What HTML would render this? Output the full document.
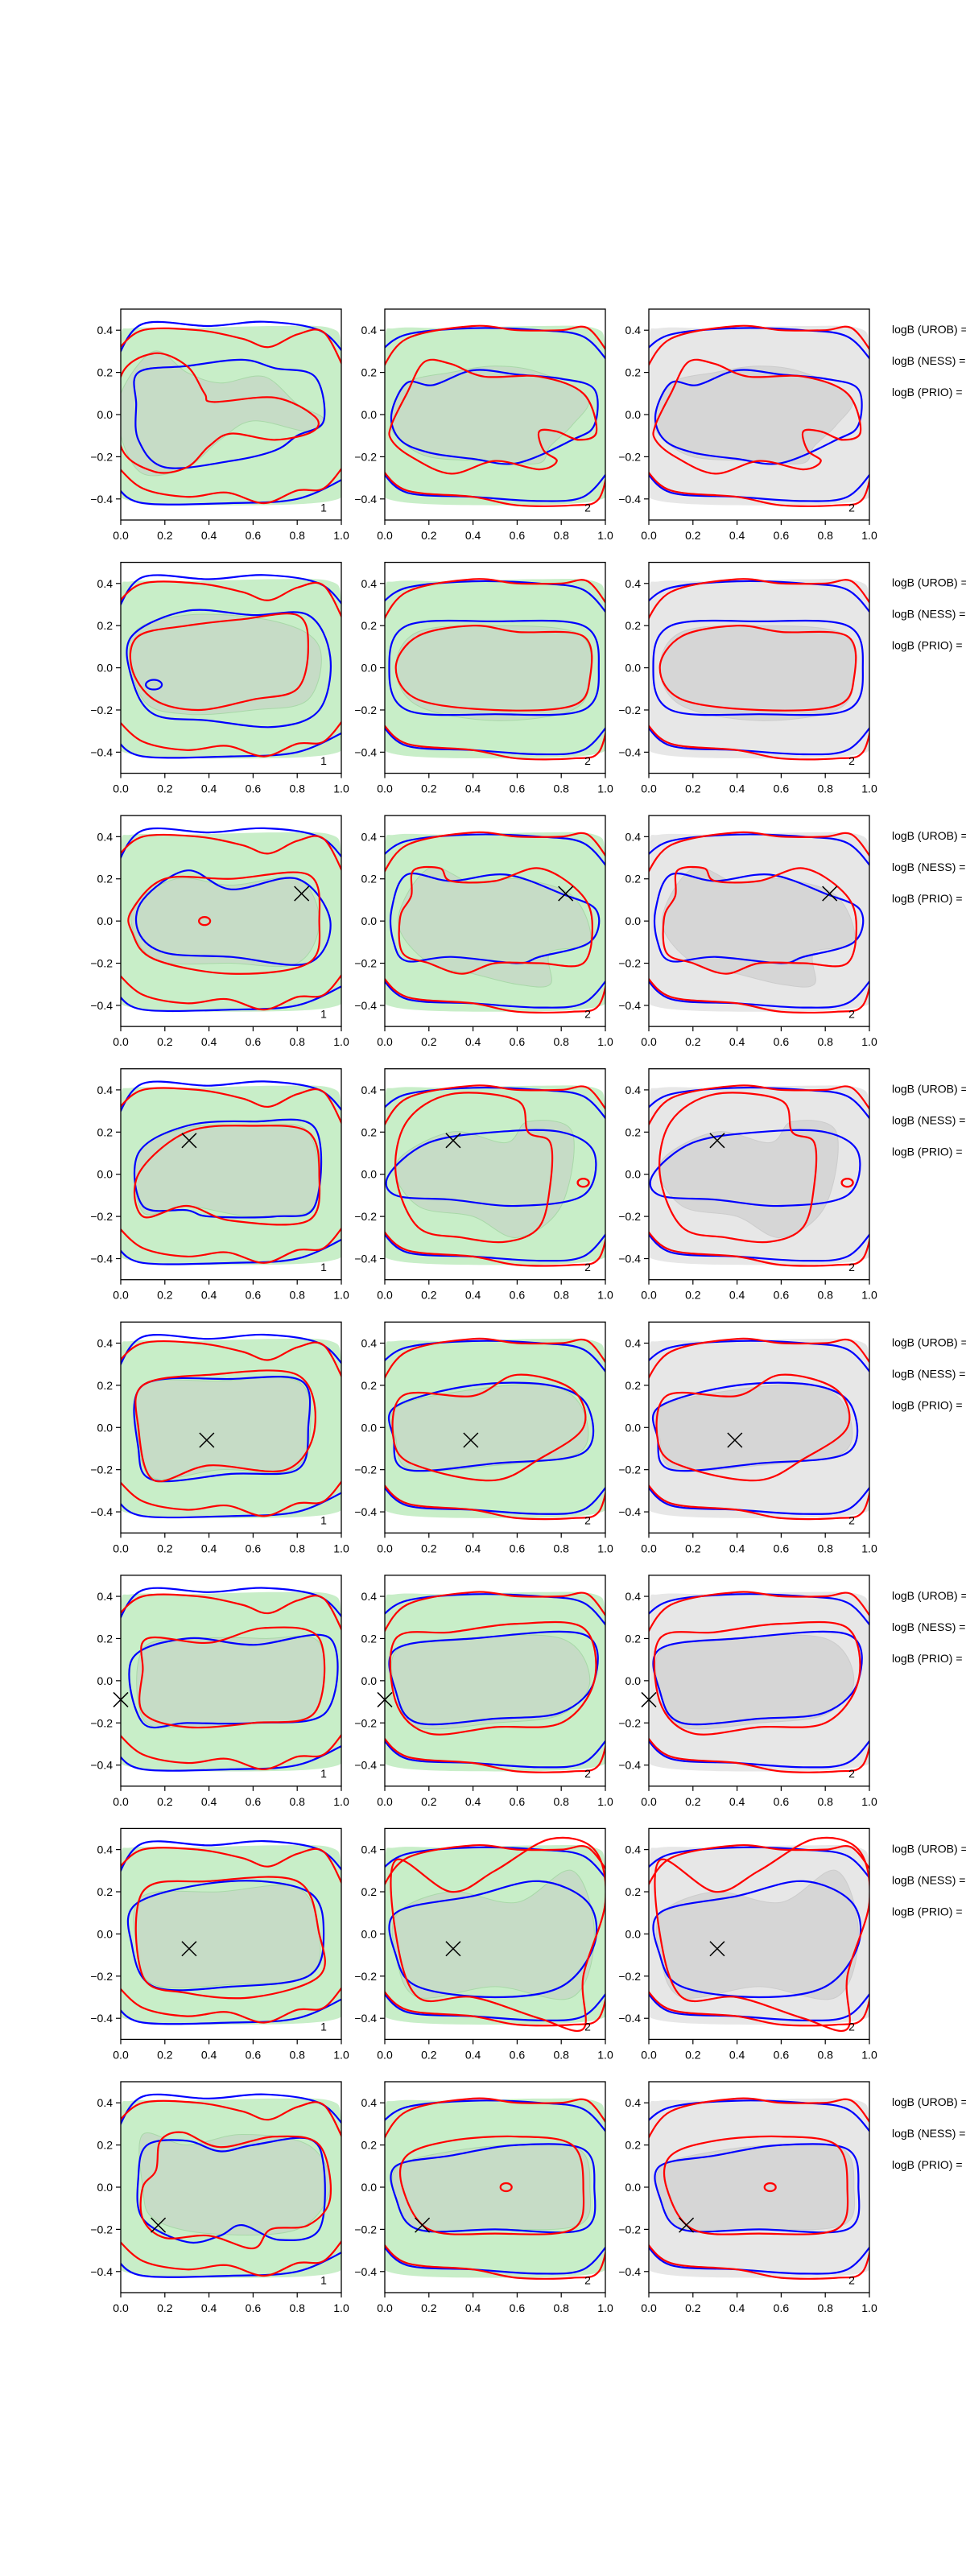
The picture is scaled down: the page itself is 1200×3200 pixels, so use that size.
<!DOCTYPE html>
<html><head><meta charset="utf-8"><style>
html,body{margin:0;padding:0;background:#fff;}
svg{display:block;font-family:"Liberation Sans","DejaVu Sans",sans-serif;}
</style></head><body>
<svg id="fig" width="1200" height="3200" viewBox="0 0 1200 3200" xmlns="http://www.w3.org/2000/svg"></svg>
<script>
// ---- data ----
const xTicks = [0, 0.2, 0.4, 0.6, 0.8, 1.0];
const xTickLabels = ["0.0","0.2","0.4","0.6","0.8","1.0"];
const yTicks = [-0.4, -0.2, 0, 0.2, 0.4];
const yTickLabels = ["\u22120.4","\u22120.2","0.0","0.2","0.4"];
const legendLabels = ["logB (UROB) =","logB (NESS) =","logB (PRIO) ="];
const panelLabels = ["1","2","2"];
const outerFill = [[0,0.36],[0.05,0.41],[0.3,0.41],[0.7,0.42],[0.95,0.41],[1,0.32],[1.01,0],[1,-0.32],[0.95,-0.41],[0.5,-0.43],[0.05,-0.41],[0,-0.32],[-0.01,0]];
const outerRedTop1 = [[-0.02,0.3],[0.1,0.4],[0.35,0.4],[0.55,0.36],[0.67,0.32],[0.8,0.38],[0.92,0.39],[1.02,0.2]];
const outerRedBot1 = [[-0.02,-0.24],[0.1,-0.35],[0.3,-0.39],[0.48,-0.37],[0.65,-0.42],[0.8,-0.36],[0.92,-0.35],[1.02,-0.23]];
const outerBlueTop1 = [[-0.02,0.26],[0.1,0.43],[0.4,0.42],[0.65,0.44],[0.9,0.4],[1.02,0.28]];
const outerBlueBot1 = [[-0.02,-0.34],[0.1,-0.42],[0.5,-0.42],[0.8,-0.4],[1.02,-0.3]];
const outerRedTop2 = [[-0.02,0.2],[0.1,0.36],[0.4,0.42],[0.6,0.4],[0.8,0.4],[0.92,0.41],[1.02,0.28]];
const outerRedBot2 = [[-0.02,-0.25],[0.1,-0.36],[0.4,-0.39],[0.6,-0.43],[0.85,-0.43],[0.97,-0.4],[1.02,-0.21]];
const outerBlueTop2 = [[-0.02,0.3],[0.1,0.38],[0.4,0.41],[0.7,0.4],[0.9,0.37],[1.02,0.24]];
const outerBlueBot2 = [[-0.02,-0.26],[0.1,-0.37],[0.4,-0.39],[0.7,-0.41],[0.9,-0.39],[1.02,-0.26]];

const innerFillA = [
 [[0.0,0.1],[0.15,0.3],[0.3,0.2],[0.45,0.15],[0.65,0.18],[0.8,0.05],[0.92,-0.02],[0.85,-0.08],[0.6,-0.03],[0.45,-0.12],[0.3,-0.25],[0.1,-0.28],[0.0,-0.1]],
 [[0.05,0.15],[0.3,0.25],[0.7,0.22],[0.9,0.1],[0.85,-0.15],[0.6,-0.2],[0.3,-0.22],[0.1,-0.15]],
 [[0.05,0.05],[0.25,0.2],[0.5,0.17],[0.8,0.2],[0.9,0.0],[0.8,-0.2],[0.5,-0.2],[0.15,-0.18]],
 [[0.08,0.1],[0.3,0.22],[0.6,0.23],[0.85,0.2],[0.88,-0.15],[0.6,-0.2],[0.3,-0.15],[0.1,-0.18]],
 [[0.1,0.2],[0.45,0.22],[0.8,0.22],[0.86,0.0],[0.78,-0.2],[0.45,-0.2],[0.15,-0.24],[0.08,-0.05]],
 [[0.1,0.15],[0.35,0.2],[0.65,0.2],[0.9,0.18],[0.88,-0.15],[0.6,-0.2],[0.3,-0.22],[0.1,-0.18]],
 [[0.1,0.18],[0.45,0.2],[0.8,0.22],[0.9,0.0],[0.85,-0.2],[0.5,-0.24],[0.15,-0.24],[0.07,-0.05]],
 [[0.1,0.0],[0.1,0.25],[0.3,0.2],[0.55,0.25],[0.85,0.2],[0.95,0.0],[0.8,-0.2],[0.4,-0.22],[0.15,-0.15]]
];
const innerFillB = [
 [[0.03,0.0],[0.1,0.15],[0.3,0.2],[0.5,0.23],[0.7,0.2],[0.92,0.08],[0.85,-0.05],[0.75,-0.15],[0.7,-0.23],[0.5,-0.22],[0.2,-0.2],[0.05,-0.1]],
 [[0.05,0.0],[0.15,0.17],[0.5,0.2],[0.88,0.16],[0.93,-0.05],[0.85,-0.2],[0.5,-0.25],[0.15,-0.18]],
 [[0.06,0.0],[0.2,0.25],[0.4,0.18],[0.6,0.2],[0.85,0.12],[0.93,-0.1],[0.75,-0.15],[0.75,-0.3],[0.6,-0.3],[0.4,-0.25],[0.2,-0.2]],
 [[0.05,0.05],[0.3,0.2],[0.55,0.15],[0.65,0.25],[0.85,0.2],[0.8,-0.15],[0.6,-0.3],[0.4,-0.2],[0.15,-0.15]],
 [[0.06,0.1],[0.4,0.18],[0.75,0.2],[0.9,0.08],[0.88,-0.12],[0.5,-0.18],[0.12,-0.2],[0.05,-0.05]],
 [[0.06,0.15],[0.35,0.2],[0.8,0.2],[0.93,0.0],[0.8,-0.16],[0.5,-0.2],[0.15,-0.22],[0.05,-0.05]],
 [[0.06,0.1],[0.3,0.2],[0.6,0.15],[0.85,0.3],[0.95,0.0],[0.85,-0.3],[0.5,-0.25],[0.15,-0.3],[0.05,-0.1]],
 [[0.06,0.1],[0.3,0.17],[0.6,0.2],[0.88,0.18],[0.93,0.0],[0.88,-0.18],[0.5,-0.2],[0.15,-0.2],[0.05,-0.05]]
];
const blueInA = [
 [[0.08,0.2],[0.3,0.23],[0.55,0.26],[0.7,0.22],[0.88,0.18],[0.92,-0.03],[0.8,-0.1],[0.7,-0.17],[0.5,-0.22],[0.2,-0.25],[0.08,-0.12],[0.07,0.05]],
 [[0.05,0.15],[0.3,0.27],[0.6,0.25],[0.85,0.25],[0.95,0.05],[0.9,-0.2],[0.7,-0.28],[0.4,-0.25],[0.15,-0.22],[0.05,-0.05]],
 [[0.1,0.1],[0.3,0.24],[0.5,0.15],[0.8,0.2],[0.95,0.0],[0.85,-0.2],[0.5,-0.17],[0.2,-0.15],[0.08,-0.05]],
 [[0.08,0.1],[0.3,0.23],[0.6,0.25],[0.88,0.22],[0.88,-0.15],[0.7,-0.2],[0.4,-0.2],[0.3,-0.17],[0.1,-0.15]],
 [[0.1,0.2],[0.5,0.23],[0.82,0.22],[0.85,0.0],[0.8,-0.2],[0.5,-0.22],[0.15,-0.25],[0.08,-0.1]],
 [[0.05,0.1],[0.3,0.2],[0.6,0.17],[0.95,0.2],[0.93,-0.15],[0.6,-0.2],[0.3,-0.2],[0.1,-0.2]],
 [[0.08,0.15],[0.5,0.25],[0.85,0.2],[0.92,0.0],[0.85,-0.2],[0.5,-0.25],[0.15,-0.25],[0.05,-0.05]],
 [[0.08,0.05],[0.12,0.2],[0.3,0.22],[0.45,0.17],[0.6,0.2],[0.85,0.23],[0.92,0.1],[0.9,-0.2],[0.72,-0.25],[0.55,-0.18],[0.45,-0.23],[0.3,-0.26],[0.1,-0.15]]
];
const redInA = [
 [[0.0,0.18],[0.15,0.29],[0.3,0.23],[0.38,0.1],[0.42,0.06],[0.7,0.08],[0.88,-0.01],[0.87,-0.08],[0.7,-0.12],[0.5,-0.09],[0.4,-0.15],[0.3,-0.25],[0.15,-0.27],[0.0,-0.15]],
 [[0.08,0.15],[0.3,0.2],[0.55,0.23],[0.8,0.25],[0.85,0.1],[0.8,-0.1],[0.6,-0.15],[0.35,-0.2],[0.15,-0.15],[0.05,0.0]],
 [[0.05,0.05],[0.2,0.2],[0.5,0.2],[0.85,0.22],[0.9,0.0],[0.85,-0.2],[0.5,-0.25],[0.15,-0.18],[0.05,-0.05]],
 [[0.08,0.0],[0.3,0.2],[0.6,0.23],[0.85,0.2],[0.9,0.0],[0.85,-0.22],[0.5,-0.22],[0.3,-0.15],[0.1,-0.2]],
 [[0.1,0.2],[0.4,0.25],[0.8,0.25],[0.88,0.0],[0.75,-0.2],[0.4,-0.18],[0.15,-0.25],[0.08,0.0]],
 [[0.12,0.2],[0.4,0.18],[0.65,0.25],[0.9,0.2],[0.88,-0.15],[0.6,-0.2],[0.3,-0.22],[0.1,-0.15],[0.1,0.05]],
 [[0.1,0.2],[0.4,0.25],[0.8,0.25],[0.9,0.0],[0.9,-0.2],[0.6,-0.3],[0.3,-0.28],[0.1,-0.2]],
 [[0.1,0.0],[0.16,0.08],[0.18,0.22],[0.28,0.26],[0.45,0.19],[0.7,0.24],[0.9,0.2],[0.95,-0.05],[0.85,-0.18],[0.68,-0.2],[0.6,-0.29],[0.4,-0.23],[0.2,-0.24],[0.1,-0.15]]
];
const blueInB = [
 [[0.03,0.0],[0.1,0.15],[0.22,0.14],[0.4,0.21],[0.6,0.19],[0.8,0.17],[0.95,0.12],[0.95,-0.05],[0.85,-0.12],[0.6,-0.23],[0.4,-0.21],[0.2,-0.18],[0.07,-0.12]],
 [[0.02,0.0],[0.1,0.2],[0.5,0.22],[0.9,0.2],[0.97,0.0],[0.9,-0.2],[0.5,-0.22],[0.1,-0.2]],
 [[0.03,0.05],[0.1,0.22],[0.3,0.19],[0.55,0.22],[0.8,0.13],[0.96,0.05],[0.93,-0.1],[0.7,-0.17],[0.6,-0.2],[0.3,-0.17],[0.1,-0.19],[0.04,-0.1]],
 [[0.02,0.0],[0.2,0.15],[0.5,0.2],[0.8,0.2],[0.95,0.1],[0.9,-0.1],[0.6,-0.15],[0.3,-0.12],[0.05,-0.1]],
 [[0.05,0.1],[0.4,0.2],[0.75,0.2],[0.92,0.1],[0.9,-0.12],[0.5,-0.17],[0.1,-0.2],[0.04,-0.05]],
 [[0.05,0.15],[0.4,0.2],[0.9,0.22],[0.95,0.0],[0.8,-0.15],[0.5,-0.18],[0.15,-0.2],[0.05,-0.05]],
 [[0.05,0.1],[0.4,0.18],[0.7,0.25],[0.92,0.15],[0.95,-0.05],[0.8,-0.25],[0.5,-0.3],[0.15,-0.25],[0.05,-0.1]],
 [[0.05,0.1],[0.3,0.15],[0.6,0.2],[0.9,0.18],[0.95,0.0],[0.9,-0.2],[0.5,-0.2],[0.15,-0.2],[0.05,-0.05]]
];
const redInB = [
 [[0.03,-0.05],[0.1,0.1],[0.18,0.25],[0.3,0.24],[0.45,0.18],[0.7,0.18],[0.9,0.1],[0.96,-0.08],[0.88,-0.12],[0.78,-0.08],[0.7,-0.08],[0.72,-0.17],[0.78,-0.22],[0.7,-0.26],[0.5,-0.22],[0.3,-0.28],[0.12,-0.2],[0.03,-0.12]],
 [[0.05,0.0],[0.15,0.15],[0.4,0.2],[0.6,0.17],[0.9,0.15],[0.93,-0.05],[0.85,-0.18],[0.5,-0.2],[0.15,-0.15]],
 [[0.07,0.02],[0.12,0.12],[0.13,0.24],[0.25,0.25],[0.3,0.19],[0.5,0.19],[0.7,0.25],[0.88,0.14],[0.94,0.0],[0.9,-0.2],[0.7,-0.2],[0.5,-0.2],[0.35,-0.25],[0.2,-0.2],[0.08,-0.15]],
 [[0.1,0.25],[0.3,0.38],[0.6,0.35],[0.65,0.2],[0.75,0.15],[0.75,-0.05],[0.7,-0.25],[0.55,-0.32],[0.35,-0.3],[0.15,-0.25],[0.05,0.0]],
 [[0.08,0.15],[0.4,0.15],[0.6,0.25],[0.85,0.18],[0.9,0.0],[0.7,-0.15],[0.5,-0.25],[0.2,-0.2],[0.05,-0.1]],
 [[0.05,0.2],[0.3,0.23],[0.6,0.27],[0.9,0.25],[0.95,0.0],[0.8,-0.2],[0.5,-0.22],[0.2,-0.25],[0.05,-0.1]],
 [[0.05,0.35],[0.3,0.2],[0.5,0.3],[0.75,0.45],[0.95,0.4],[1.0,0.15],[0.9,-0.2],[0.9,-0.45],[0.7,-0.4],[0.4,-0.3],[0.15,-0.3],[0.05,0.0]],
 [[0.1,0.15],[0.3,0.22],[0.6,0.24],[0.85,0.2],[0.9,0.0],[0.85,-0.2],[0.5,-0.22],[0.2,-0.2],[0.08,0.0]]
];
// small red loops: [row, colGroup(A=0,B=1), cx, cy, r]
const smallLoopRow = [2, 3, 3, 7];
const smallLoopGroup = [0, 1, 1, 1];
const smallLoopX = [0.38, 0.9, 0.9, 0.55];
const smallLoopY = [0.0, -0.04, -0.04, 0.0];
const markerX = [null, null, 0.82, 0.31, 0.39, 0.0, 0.31, 0.17];
const markerY = [null, null, 0.13, 0.16, -0.06, -0.09, -0.07, -0.18];

// ---- layout ----
const NS = "http://www.w3.org/2000/svg";
const svg = document.getElementById("fig");
const PW = 274, PH = 262;
function colX(c){ return 150 + 328*c; }
function rowY(r){ return 384 + 314.57*r; }
function el(tag, attrs, parent){ const e = document.createElementNS(NS, tag); for (const k in attrs) e.setAttribute(k, attrs[k]); (parent||svg).appendChild(e); return e; }
function smoothPath(pts, sx, sy, closed){
  const P = pts.map(p => [sx(p[0]), sy(p[1])]);
  const n = P.length;
  let d = "M" + P[0][0].toFixed(1) + "," + P[0][1].toFixed(1);
  const segs = closed ? n : n - 1;
  for (let i = 0; i < segs; i++){
    const p0 = P[closed ? (i-1+n)%n : Math.max(i-1,0)];
    const p1 = P[i], p2 = P[(i+1)%n];
    const p3 = P[closed ? (i+2)%n : Math.min(i+2,n-1)];
    const c1x = p1[0] + (p2[0]-p0[0])/6, c1y = p1[1] + (p2[1]-p0[1])/6;
    const c2x = p2[0] - (p3[0]-p1[0])/6, c2y = p2[1] - (p3[1]-p1[1])/6;
    d += " C" + c1x.toFixed(1)+","+c1y.toFixed(1)+" "+c2x.toFixed(1)+","+c2y.toFixed(1)+" "+p2[0].toFixed(1)+","+p2[1].toFixed(1);
  }
  return d + (closed ? " Z" : "");
}

for (let r = 0; r < 8; r++){
  for (let c = 0; c < 3; c++){
    const x0 = colX(c), y0 = rowY(r);
    const sx = v => x0 + v*PW;
    const sy = v => y0 + (0.5 - v)*PH;
    const g = el("g", {});
    
    
    const cid = "clip" + r + "_" + c;
    const cp = el("clipPath", {id: cid}, g);
    el("rect", {x: x0, y: y0, width: PW, height: PH}, cp);
    const inner = el("g", {"clip-path": "url(#" + cid + ")"}, g);
    const grp = c === 0 ? 0 : 1;
    const bgCol = c === 2 ? "#e7e7e7" : "#c8eec8";
    const inCol = c === 2 ? "#d6d6d6" : "#c6dcc6";
    const inStroke = c === 2 ? "#cccccc" : "#a8d8a8";
    const of = el("path", {d: smoothPath(outerFill, sx, sy, true), fill: bgCol}, inner);
    
    
    const ifl = el("path", {d: smoothPath(grp ? innerFillB[r] : innerFillA[r], sx, sy, true), fill: inCol, stroke: inStroke, "stroke-width": 1}, inner);
    
    
    const outs = grp ? [[outerBlueTop2,"#0000ff"],[outerBlueBot2,"#0000ff"],[outerRedTop2,"#ff0000"],[outerRedBot2,"#ff0000"]]
                     : [[outerBlueTop1,"#0000ff"],[outerBlueBot1,"#0000ff"],[outerRedTop1,"#ff0000"],[outerRedBot1,"#ff0000"]];
    outs.forEach(o => {
      const p = el("path", {d: smoothPath(o[0], sx, sy, false), fill: "none", stroke: o[1], "stroke-width": 2.2}, inner);
      
      
    });
    const bp = el("path", {d: smoothPath(grp ? blueInB[r] : blueInA[r], sx, sy, true), fill: "none", stroke: "#0000ff", "stroke-width": 2.2}, inner);
    
    
    const rp = el("path", {d: smoothPath(grp ? redInB[r] : redInA[r], sx, sy, true), fill: "none", stroke: "#ff0000", "stroke-width": 2.2}, inner);
    
    
    for (let k = 0; k < smallLoopRow.length; k++){
      if (smallLoopRow[k] === r && smallLoopGroup[k] === grp){
        const sl = el("ellipse", {cx: sx(smallLoopX[k]), cy: sy(smallLoopY[k]), rx: 7, ry: 5, fill: "none", stroke: "#ff0000", "stroke-width": 2.2}, inner);
        
        
      }
    }
    if (r === 1 && c === 0){
      const sb = el("ellipse", {cx: sx(0.15), cy: sy(-0.08), rx: 10, ry: 6, fill: "none", stroke: "#0000ff", "stroke-width": 2.2}, inner);
      
      
    }
    if (markerX[r] !== null){
      const mx = sx(markerX[r]), my = sy(markerY[r]), s = 9;
      const m = el("path", {d: `M${mx-s},${my-s} L${mx+s},${my+s} M${mx-s},${my+s} L${mx+s},${my-s}`, stroke: "#000", "stroke-width": 1.5, fill: "none"}, g);
      
      
    }
    const pl = el("text", {x: sx(0.92), y: sy(-0.44)+5, "font-size": 14, fill: "#000", "text-anchor": "middle"}, g);
    pl.textContent = panelLabels[c];
    
    
    const fr = el("rect", {x: x0, y: y0, width: PW, height: PH, fill: "none", stroke: "#000", "stroke-width": 1.3}, g);
    
    
    xTicks.forEach((t, i) => {
      el("line", {x1: sx(t), x2: sx(t), y1: y0+PH, y2: y0+PH+6, stroke: "#000", "stroke-width": 1.2}, g);
      const tl = el("text", {x: sx(t), y: y0+PH+24, "font-size": 14, "text-anchor": "middle", fill: "#000"}, g);
      tl.textContent = xTickLabels[i];
      
      
    });
    yTicks.forEach((t, i) => {
      el("line", {x1: x0-6, x2: x0, y1: sy(t), y2: sy(t), stroke: "#000", "stroke-width": 1.2}, g);
      const tl = el("text", {x: x0-10, y: sy(t)+5, "font-size": 14, "text-anchor": "end", fill: "#000"}, g);
      tl.textContent = yTickLabels[i];
      
      
    });
  }
  legendLabels.forEach((s, i) => {
    const t = el("text", {x: 1108, y: rowY(r) + 30 + 39*i, "font-size": 14, fill: "#000"});
    t.textContent = s;
    
    
  });
}
</script>
</body></html>
